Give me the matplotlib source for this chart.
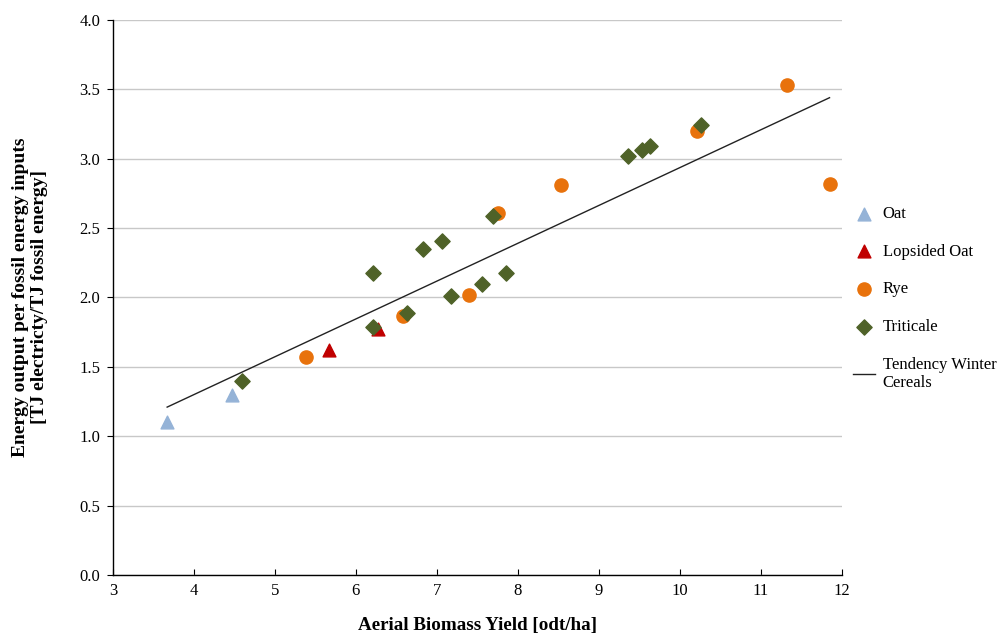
import numpy as np
import matplotlib.pyplot as plt

plt.rcParams['font.family'] = ['Liberation Serif', 'DejaVu Serif']

# values
oat_x = [3.67, 4.47]
oat_y = [1.10, 1.30]

lopsided_x = [5.67, 6.28]
lopsided_y = [1.62, 1.77]

rye_x = [5.38, 6.58, 7.40, 7.75, 8.53, 10.21, 11.32, 11.86]
rye_y = [1.57, 1.87, 2.02, 2.61, 2.81, 3.20, 3.53, 2.82]

triticale_x = [4.60, 6.21, 6.21, 6.63, 6.83, 7.06, 7.17, 7.56, 7.69, 7.85,
               9.36, 9.53, 9.63, 10.26]
triticale_y = [1.40, 1.79, 2.18, 1.89, 2.35, 2.41, 2.01, 2.10, 2.59, 2.18,
               3.02, 3.06, 3.09, 3.24]

trend_x = [3.67, 11.85]
trend_y = [1.21, 3.44]

ylabel_lines = ['Energy output per fossil energy inputs',
                '[TJ electricty/TJ fossil energy]']

fig = plt.figure(figsize=(10.08, 6.35), dpi=100)
ax = fig.add_axes([0.112, 0.0945, 0.723, 0.874])

ax.scatter(oat_x, oat_y, marker='^', s=85, color='#95B3D7', label='Oat', zorder=3)
ax.scatter(lopsided_x, lopsided_y, marker='^', s=85, color='#C00000',
           label='Lopsided Oat', zorder=3)
ax.scatter(rye_x, rye_y, marker='o', s=90, color='#E8720C', label='Rye', zorder=3)
ax.scatter(triticale_x, triticale_y, marker='D', s=60, color='#4F6228',
           label='Triticale', zorder=4)
ax.plot(trend_x, trend_y, color='#222222', lw=1.0,
        label='Tendency Winter\nCereals', zorder=2)

ax.set_xlim(3, 12)
ax.set_ylim(0, 4.0)
ax.set_xticks(np.arange(3, 13, 1))
ax.set_yticks(np.arange(0, 4.01, 0.5))
ax.set_yticklabels([f'{v:.1f}' for v in np.arange(0, 4.01, 0.5)])
ax.yaxis.grid(True, color='#c8c8c8', lw=1.0)
ax.set_axisbelow(True)

for side in ['top', 'right']:
    ax.spines[side].set_visible(False)
for side in ['left', 'bottom']:
    ax.spines[side].set_color('black')
    ax.spines[side].set_linewidth(1.0)

ax.tick_params(axis='x', direction='in', length=4, labelsize=12, pad=6)
ax.tick_params(axis='y', direction='out', length=4, labelsize=12, pad=5)

ax.set_xlabel('Aerial Biomass Yield [odt/ha]', fontsize=13.7, fontweight='bold',
              labelpad=13)
# two-line y label, set as two texts to keep the tight line spacing
for xpos, line in zip([0.0205, 0.0395], ylabel_lines):
    fig.text(xpos, 0.532, line, rotation=90, ha='center', va='center',
             fontsize=14, fontweight='bold')

ax.legend(loc='upper left', bbox_to_anchor=(1.0, 0.686), frameon=False,
          fontsize=12, labelspacing=1.3, handlelength=1.3, handletextpad=0.45,
          borderaxespad=0.3, scatterpoints=1)

fig.savefig('out.png', dpi=100)
